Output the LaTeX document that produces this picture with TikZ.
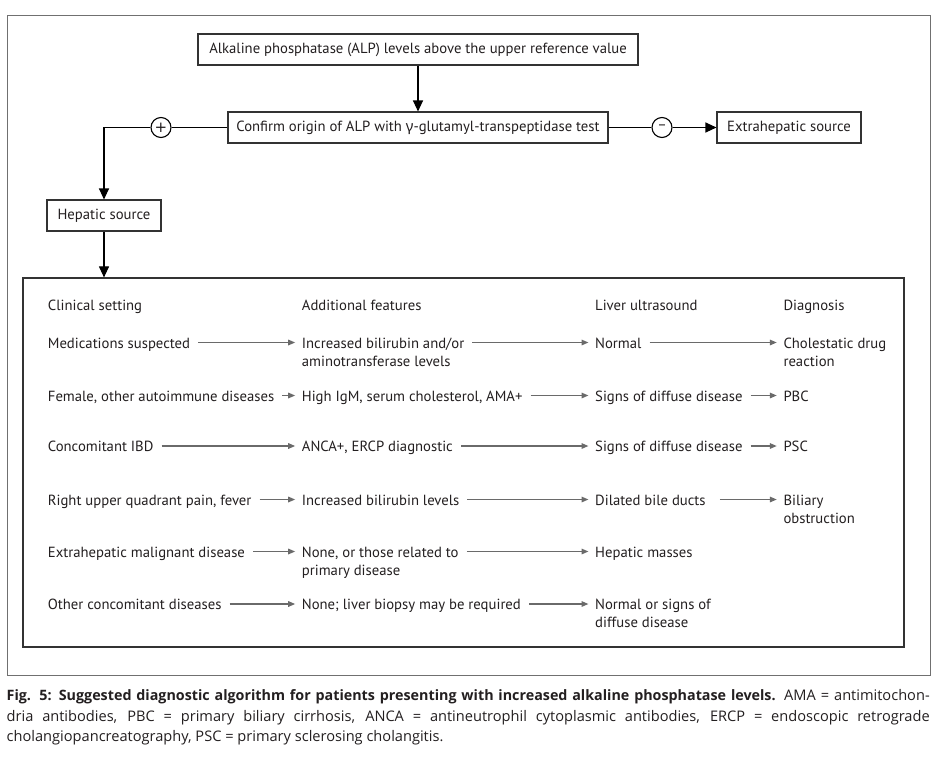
\documentclass[tikz,border=0pt]{standalone}
\usepackage{fontspec}
\setmainfont{PT Sans}
\newfontfamily\greekfont{Noto Sans}
\newfontfamily\capfont{Open Sans}
\newfontfamily\signfont{DejaVu Sans}
\usetikzlibrary{arrows.meta}
\definecolor{txt}{HTML}{231F20}
\definecolor{framec}{HTML}{707070}
\definecolor{boxc}{HTML}{333333}
\definecolor{arrc}{HTML}{6A6A6A}
\newcommand{\tcell}[1]{\begin{tabular}[t]{@{}l@{}}#1\end{tabular}}
\begin{document}
\begin{tikzpicture}[x=1pt,y=-1pt,
  every node/.style={text=txt},
  bodyfont/.style={font=\fontsize{14.7}{18}\selectfont},
  flowbox/.style={draw=boxc, line width=1.1pt, minimum height=31pt, inner sep=0pt, bodyfont},
  conn/.style={draw=black, line width=1.1pt},
  bigtip/.style={-{Triangle[length=11pt,width=10pt]}},
  sign/.style={circle, draw=black, line width=1.1pt, minimum size=20pt, inner sep=0pt, font=\signfont\fontsize{15}{15}\selectfont},
  cell/.style={anchor=base west, inner sep=0pt, bodyfont},
  tarr/.style={draw=arrc, line width=1.5pt, -{Triangle[length=7pt,width=5.5pt]}, shorten <=8pt, shorten >=6.5pt},
]
\useasboundingbox (0,0) rectangle (940,758);
\fill[white] (0,0) rectangle (940,758);

% frames
\node[draw=framec, line width=1pt, minimum width=923pt, minimum height=660pt, inner sep=0pt] (frame) at (468.5,345) {};
\node[draw=boxc, line width=1.2pt, minimum width=881pt, minimum height=369pt, inner sep=0pt] (tbl) at (463.5,462.5) {};

% flow boxes
\node[flowbox, minimum width=440pt] (alp) at (418,49.5) {Alkaline phosphatase (ALP) levels above the upper reference value};
\node[flowbox, minimum width=380pt] (confirm) at (418,127.5) {Confirm origin of ALP with {\greekfont γ}-glutamyl-transpeptidase test};
\node[flowbox, minimum width=144pt] (extra) at (789,127.5) {Extrahepatic source};
\node[flowbox, minimum width=114pt] (hep) at (104,215.5) {Hepatic source};
\node[sign] (plus) at (161,127.5) {+};
\node[sign] (minus) at (662,127.5) {\textendash};

% flow connectors
\draw[conn, bigtip] (alp.south) -- (confirm.north);
\draw[conn] (confirm.west) -- (plus.east);
\draw[conn, bigtip] (plus.west) -| (hep.north);
\draw[conn] (confirm.east) -- (minus.west);
\draw[conn, bigtip] (minus.east) -- (extra.west);
\draw[conn, bigtip] (hep.south) -- (hep.south |- tbl.north);

% table headers
\node[cell] (h1) at (47.7,310) {Clinical setting};
\node[cell] (h2) at (301.7,310) {Additional features};
\node[cell] (h3) at (595,310) {Liver ultrasound};
\node[cell] (h4) at (783.3,310) {Diagnosis};

% row 1
\node[cell] (a1) at (47.7,348) {Medications suspected};
\node[cell] (b1) at (301.7,348) {\tcell{Increased bilirubin and/or\\aminotransferase levels}};
\node[cell] (c1) at (595,348) {Normal};
\node[cell] (d1) at (783.3,348) {\tcell{Cholestatic drug\\reaction}};
% row 2
\node[cell] (a2) at (47.7,401) {Female, other autoimmune diseases};
\node[cell] (b2) at (301.7,401) {High IgM, serum cholesterol, AMA+};
\node[cell] (c2) at (595,401) {Signs of diffuse disease};
\node[cell] (d2) at (783.3,401) {PBC};
% row 3
\node[cell] (a3) at (47.7,451.5) {Concomitant IBD};
\node[cell] (b3) at (301.7,451.5) {ANCA+, ERCP diagnostic};
\node[cell] (c3) at (595,451.5) {Signs of diffuse disease};
\node[cell] (d3) at (783.3,451.5) {PSC};
% row 4
\node[cell] (a4) at (47.7,505) {Right upper quadrant pain, fever};
\node[cell] (b4) at (301.7,505) {Increased bilirubin levels};
\node[cell] (c4) at (595,505) {Dilated bile ducts};
\node[cell] (d4) at (783.3,505) {\tcell{Biliary\\obstruction}};
% row 5
\node[cell] (a5) at (47.7,557) {Extrahepatic malignant disease};
\node[cell] (b5) at (301.7,557) {\tcell{None, or those related to\\primary disease}};
\node[cell] (c5) at (595,557) {Hepatic masses};
% row 6
\node[cell] (a6) at (47.7,609.5) {Other concomitant diseases};
\node[cell] (b6) at (301.7,609.5) {None; liver biopsy may be required};
\node[cell] (c6) at (595,609.5) {\tcell{Normal or signs of\\diffuse disease}};

% table arrows
\foreach \r in {1,2,3,4,5,6}{
  \draw[tarr] ([yshift=5.5pt]a\r.base east) -- ([yshift=5.5pt]b\r.base west);
  \draw[tarr] ([yshift=5.5pt]b\r.base east) -- ([yshift=5.5pt]c\r.base west);
}
\foreach \r in {1,2,3}{
  \draw[tarr] ([yshift=5.5pt]c\r.base east) -- ([yshift=5.5pt]d\r.base west);
}
\draw[tarr, shorten <=14pt] ([yshift=5.5pt]c4.base east) -- ([yshift=5.5pt]d4.base west);

% caption
\node[anchor=base west, inner sep=0pt, text width=923pt, align=justify,
      font=\capfont\fontsize{14.6}{20.6}\selectfont] (cap) at (6.5,700.5)
 {\hyphenpenalty=10000 {\bfseries\fontsize{14.3}{20.6}\selectfont Fig. 5: Suggested diagnostic algorithm for patients presenting with increased alkaline phosphatase levels.} AMA = antimitochon-\linebreak dria antibodies, PBC = primary biliary cirrhosis, ANCA = antineutrophil cytoplasmic antibodies, ERCP = endoscopic retrograde\linebreak cholangiopancreatography, PSC = primary sclerosing cholangitis.};
\end{tikzpicture}
\end{document}
